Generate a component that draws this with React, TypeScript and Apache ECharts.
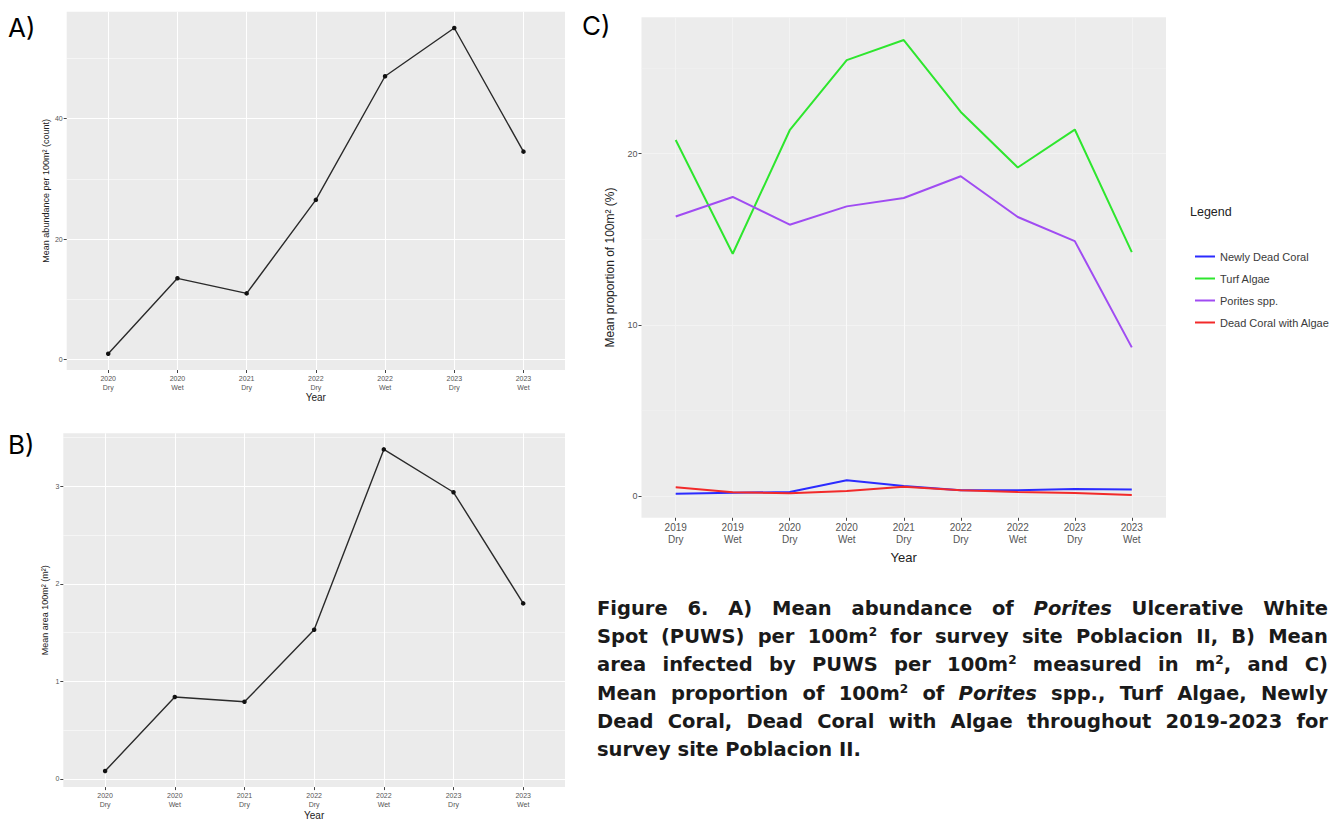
import React, { useEffect, useRef } from 'react';
import * as echarts from 'echarts';

// ---------- data ----------
const seasonsAB = ['2020\nDry', '2020\nWet', '2021\nDry', '2022\nDry', '2022\nWet', '2023\nDry', '2023\nWet'];
const meanAbundance = [1.0, 13.5, 11.0, 26.5, 47.0, 55.0, 34.5];
const meanArea = [0.08, 0.84, 0.79, 1.53, 3.38, 2.94, 1.8];

const seasonsC = ['2019\nDry', '2019\nWet', '2020\nDry', '2020\nWet', '2021\nDry', '2022\nDry', '2022\nWet', '2023\nDry', '2023\nWet'];
const newlyDeadCoral = [0.13, 0.18, 0.23, 0.91, 0.58, 0.33, 0.33, 0.4, 0.38];
const turfAlgae = [20.8, 14.15, 21.37, 25.47, 26.64, 22.44, 19.19, 21.41, 14.25];
const poritesSpp = [16.33, 17.47, 15.85, 16.92, 17.41, 18.68, 16.3, 14.89, 8.68];
const deadCoralWithAlgae = [0.5, 0.22, 0.16, 0.29, 0.53, 0.33, 0.23, 0.17, 0.05];

const legendNames = ['Newly Dead Coral', 'Turf Algae', 'Porites spp.', 'Dead Coral with Algae'];
const ticksA = [0, 20, 40];
const ticksB = [0, 1, 2, 3];
const ticksC = [0, 10, 20];
// faint white grid fragments visible in panel C (category index, from, to)
const gridFragmentsC = [
  { x: 3, from: 16.6, to: 4.9 },
  { x: 4, from: 17.1, to: 4.9 },
];

const captionLines = [
  'Figure 6. A) Mean abundance of *Porites* Ulcerative White',
  'Spot (PUWS) per 100m^2 for survey site Poblacion II, B) Mean',
  'area infected by PUWS per 100m^2 measured in m^2, and C)',
  'Mean proportion of 100m^2 of *Porites* spp., Turf Algae, Newly',
  'Dead Coral, Dead Coral with Algae throughout 2019-2023 for',
  'survey site Poblacion II.',
];

// ---------- helpers ----------
const FONT = '"Liberation Sans", Arial, Helvetica, sans-serif';

function expandRange(values: number[]): [number, number] {
  const lo = Math.min(...values);
  const hi = Math.max(...values);
  const pad = (hi - lo) * 0.05;
  return [lo - pad, hi + pad];
}

function xAxisFor(gridIndex: number, labels: string[], o: any) {
  const n = labels.length;
  const idx = labels.map((_, i) => i);
  return {
    type: 'value',
    gridIndex,
    min: -0.6,
    max: n - 1 + 0.6,
    minInterval: 1,
    maxInterval: 1,
    name: 'Year',
    nameLocation: 'middle',
    nameGap: o.nameGap,
    nameTextStyle: { fontSize: o.nameSize, color: '#222', fontFamily: FONT },
    axisLine: { show: false, onZero: false },
    axisTick: { show: true, length: 3, lineStyle: { color: '#444', width: 1 }, customValues: idx },
    axisLabel: {
      customValues: idx,
      fontSize: o.fontSize,
      lineHeight: o.lineHeight,
      color: '#555',
      fontFamily: FONT,
      margin: o.margin,
      formatter: (v: number) => {
        const i = Math.round(v);
        return Math.abs(v - i) < 1e-6 && i >= 0 && i < n ? labels[i] : '';
      },
    },
    splitLine: { show: true, lineStyle: { color: o.gridColor, width: 1 } },
  };
}

function yAxisFor(gridIndex: number, range: [number, number], ticks: number[], step: number, o: any) {
  return {
    type: 'value',
    gridIndex,
    min: range[0],
    max: range[1],
    minInterval: step,
    maxInterval: step,
    name: o.name,
    nameLocation: 'middle',
    nameGap: o.nameGap,
    nameTextStyle: { fontSize: o.nameSize, color: '#222', fontFamily: FONT },
    axisLine: { show: false, onZero: false },
    axisTick: { show: true, length: 3, lineStyle: { color: '#444', width: 1 }, customValues: ticks },
    axisLabel: {
      customValues: ticks,
      fontSize: o.fontSize,
      color: '#555',
      fontFamily: FONT,
      margin: o.margin,
      formatter: (v: number) => {
        const r = Math.round(v / step) * step;
        return Math.abs(v - r) < 1e-6 ? String(r) : '';
      },
    },
    splitLine: { show: true, lineStyle: { color: o.gridColor, width: 1 } },
    minorTick: { show: false, splitNumber: 2 },
    minorSplitLine: { show: true, lineStyle: { color: o.gridColor, width: 0.5 } },
  };
}

function renderWord(word: string, key: number) {
  const parts = word.split(/(\*[^*]+\*|\^2)/).filter((p) => p !== '');
  return (
    <span key={key}>
      {parts.map((p, j) => {
        if (p.startsWith('*')) return <i key={j}>{p.slice(1, -1)}</i>;
        if (p === '^2')
          return (
            <span key={j} style={{ fontSize: '0.62em', verticalAlign: 'super', lineHeight: 0 }}>
              2
            </span>
          );
        return <React.Fragment key={j}>{p}</React.Fragment>;
      })}
    </span>
  );
}

export default function App() {
  const ref = useRef<HTMLDivElement>(null);

  useEffect(() => {
    if (!ref.current) return;
    const chart = echarts.init(ref.current, undefined, { renderer: 'svg' });

    const rangeA = expandRange(meanAbundance);
    const rangeB = expandRange(meanArea);
    const rangeC = expandRange([...newlyDeadCoral, ...turfAlgae, ...poritesSpp, ...deadCoralWithAlgae]);

    const colorsC = ['#2b2bff', '#2ee62e', '#a04cf2', '#f22a2a'];
    const seriesC = [newlyDeadCoral, turfAlgae, poritesSpp, deadCoralWithAlgae];

    const option: any = {
      animation: false,
      backgroundColor: '#ffffff',
      grid: [
        { left: 66.7, top: 11.7, width: 498.3, height: 358.3, show: true, backgroundColor: '#EBEBEB', borderWidth: 0 },
        { left: 63.3, top: 433.3, width: 501.7, height: 358.4, show: true, backgroundColor: '#EBEBEB', borderWidth: 0 },
        { left: 641.5, top: 17.3, width: 524.5, height: 500.5, show: true, backgroundColor: '#ECECEC', borderWidth: 0 },
      ],
      xAxis: [
        xAxisFor(0, seasonsAB, { nameGap: 22, nameSize: 10, fontSize: 7, lineHeight: 9, margin: 4, gridColor: '#ffffff' }),
        xAxisFor(1, seasonsAB, { nameGap: 22, nameSize: 10, fontSize: 7, lineHeight: 9, margin: 4, gridColor: '#ffffff' }),
        xAxisFor(2, seasonsC, { nameGap: 31, nameSize: 13, fontSize: 10, lineHeight: 12, margin: 4, gridColor: '#f3f3f3' }),
      ],
      yAxis: [
        yAxisFor(0, rangeA, ticksA, 20, { name: 'Mean abundance per 100m² (count)', nameGap: 16.5, nameSize: 9, fontSize: 7, margin: 4, gridColor: '#ffffff' }),
        yAxisFor(1, rangeB, ticksB, 1, { name: 'Mean area 100m² (m²)', nameGap: 13.5, nameSize: 9, fontSize: 7, margin: 4, gridColor: '#ffffff' }),
        yAxisFor(2, rangeC, ticksC, 10, { name: 'Mean proportion of 100m² (%)', nameGap: 26, nameSize: 12, fontSize: 9, margin: 4, gridColor: '#f3f3f3' }),
      ],
      legend: {
        show: true,
        orient: 'vertical',
        left: 1190,
        top: 244.5,
        itemWidth: 20,
        itemHeight: 2,
        itemGap: 8,
        icon: 'rect',
        selectedMode: false,
        data: legendNames,
        textStyle: { fontSize: 11, color: '#3a3a3a', fontFamily: FONT, lineHeight: 14 },
      },
      graphic: [
        { type: 'text', left: 8, top: 14, style: { text: 'A)', fontSize: 26, fill: '#000', fontFamily: 'Inter, "Noto Sans", sans-serif' } },
        { type: 'text', left: 8, top: 431, style: { text: 'B)', fontSize: 26, fill: '#000', fontFamily: 'Inter, "Noto Sans", sans-serif' } },
        { type: 'text', left: 582, top: 12, style: { text: 'C)', fontSize: 26, fill: '#000', fontFamily: 'Inter, "Noto Sans", sans-serif' } },
        { type: 'text', left: 1190, top: 205, style: { text: 'Legend', fontSize: 12.5, fill: '#222', fontFamily: FONT } },
      ],
      series: [
        {
          type: 'line',
          name: 'Mean abundance',
          xAxisIndex: 0,
          yAxisIndex: 0,
          data: meanAbundance.map((v, i) => [i, v]),
          symbol: 'circle',
          symbolSize: 4.5,
          itemStyle: { color: '#111' },
          lineStyle: { color: '#2a2a2a', width: 1.4 },
          silent: true,
        },
        {
          type: 'line',
          name: 'Mean area',
          xAxisIndex: 1,
          yAxisIndex: 1,
          data: meanArea.map((v, i) => [i, v]),
          symbol: 'circle',
          symbolSize: 4.5,
          itemStyle: { color: '#111' },
          lineStyle: { color: '#2a2a2a', width: 1.4 },
          silent: true,
        },
        ...seriesC.map((vals, k) => ({
          type: 'line',
          name: legendNames[k],
          xAxisIndex: 2,
          yAxisIndex: 2,
          data: vals.map((v, i) => [i, v]),
          showSymbol: false,
          symbol: 'none',
          itemStyle: { color: colorsC[k] },
          lineStyle: { color: colorsC[k], width: 2 },
          silent: true,
          z: 3 + k,
          markLine:
            k === 2
              ? {
                  silent: true,
                  symbol: 'none',
                  label: { show: false },
                  lineStyle: { color: '#fafafa', width: 1, type: 'solid' },
                  data: gridFragmentsC.map((g) => [{ coord: [g.x, g.from] }, { coord: [g.x, g.to] }]),
                }
              : undefined,
        })),
      ],
    };

    chart.setOption(option);
    return () => chart.dispose();
  }, []);

  return (
    <div style={{ position: 'absolute', left: 0, top: 0, width: 1344, height: 821, background: '#fff', overflow: 'hidden' }}>
      <div ref={ref} style={{ position: 'absolute', left: 0, top: 0, width: 1344, height: 821 }} />
      <div
        style={{
          position: 'absolute',
          left: 597,
          top: 595,
          width: 731,
          fontFamily: '"DejaVu Sans", "Noto Sans", sans-serif',
          fontWeight: 700,
          fontSize: 19.5,
          lineHeight: '28.2px',
          color: '#1a1a1a',
        }}
      >
        {captionLines.map((line, li) => {
          const words = line.split(' ');
          const last = li === captionLines.length - 1;
          return (
            <div
              key={li}
              style={
                last
                  ? { whiteSpace: 'nowrap' }
                  : { display: 'flex', justifyContent: 'space-between', whiteSpace: 'nowrap' }
              }
            >
              {last
                ? words.map((w, wi) => (
                    <React.Fragment key={wi}>
                      {renderWord(w, wi)}
                      {wi < words.length - 1 ? ' ' : ''}
                    </React.Fragment>
                  ))
                : words.map((w, wi) => renderWord(w, wi))}
            </div>
          );
        })}
      </div>
    </div>
  );
}
